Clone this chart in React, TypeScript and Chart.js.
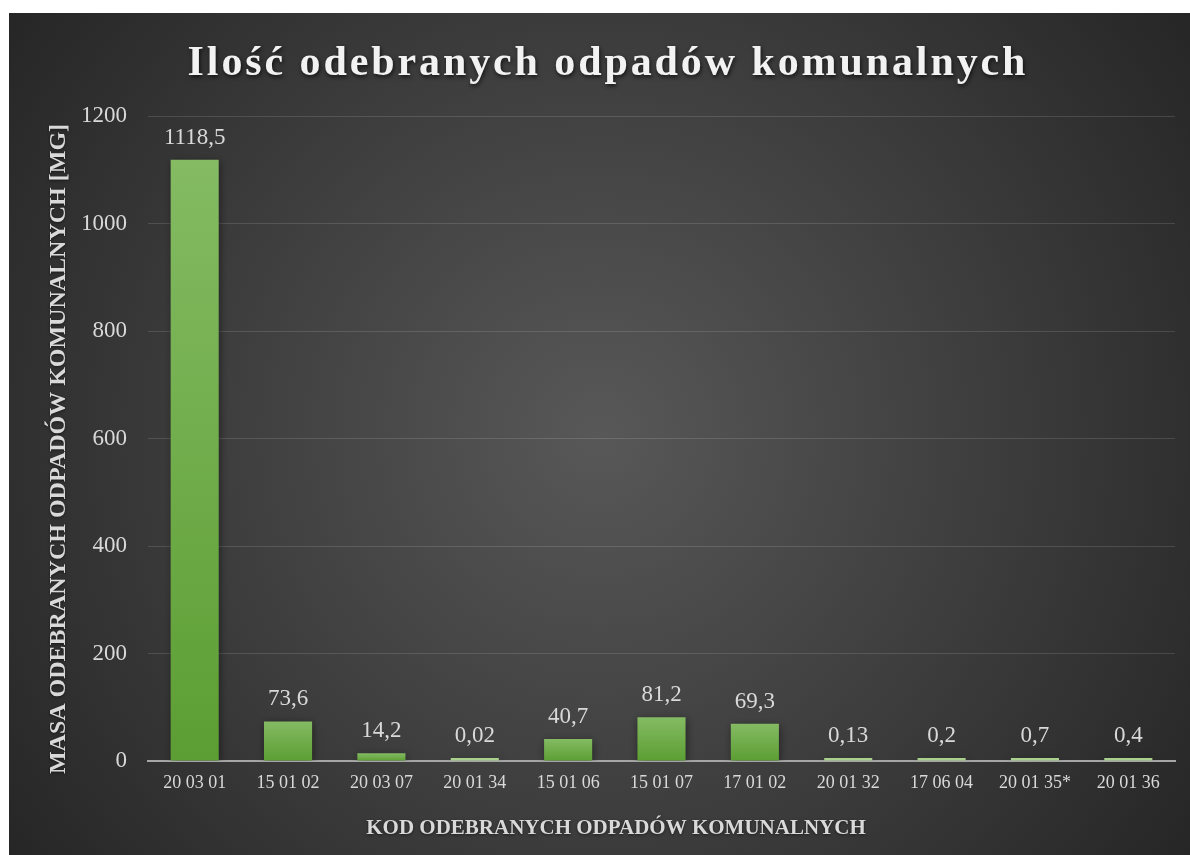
import React, { useEffect, useRef } from "react";
import { Chart, registerables } from "chart.js";

Chart.register(...registerables);

const TITLE = "Ilość odebranych odpadów komunalnych";
const X_TITLE = "KOD ODEBRANYCH ODPADÓW KOMUNALNYCH";
const Y_TITLE = "MASA ODEBRANYCH ODPADÓW KOMUNALNYCH [MG]";

const categories = [
  "20 03 01",
  "15 01 02",
  "20 03 07",
  "20 01 34",
  "15 01 06",
  "15 01 07",
  "17 01 02",
  "20 01 32",
  "17 06 04",
  "20 01 35*",
  "20 01 36",
];
const values = [1118.5, 73.6, 14.2, 0.02, 40.7, 81.2, 69.3, 0.13, 0.2, 0.7, 0.4];
const valueLabels = ["1118,5", "73,6", "14,2", "0,02", "40,7", "81,2", "69,3", "0,13", "0,2", "0,7", "0,4"];

const yMin = 0;
const yMax = 1200;
const yStep = 200;

const FONT = '"Liberation Serif", "Times New Roman", serif';
const TEXT = "#d9d9d9";

const W = 1181;
const H = 842;

const decorPlugin = {
  id: "decor",
  beforeDraw(chart: any) {
    const ctx = chart.ctx;
    const w = chart.width;
    const h = chart.height;
    ctx.save();
    const g = ctx.createRadialGradient(w * 0.5, h * 0.5, 0, w * 0.5, h * 0.5, Math.hypot(w, h) * 0.5);
    g.addColorStop(0, "#585858");
    g.addColorStop(1, "#262626");
    ctx.fillStyle = g;
    ctx.fillRect(0, 0, w, h);
    ctx.restore();
  },
  beforeDatasetsDraw(chart: any) {
    const ctx = chart.ctx;
    ctx.save();
    ctx.shadowColor = "rgba(0,0,0,0.45)";
    ctx.shadowBlur = 8;
    ctx.shadowOffsetX = 1;
    ctx.shadowOffsetY = 2;
  },
  afterDatasetsDraw(chart: any) {
    const ctx = chart.ctx;
    ctx.restore();
    const meta = chart.getDatasetMeta(0);
    ctx.save();
    ctx.fillStyle = TEXT;
    ctx.font = `23px ${FONT}`;
    ctx.textAlign = "center";
    ctx.textBaseline = "alphabetic";
    meta.data.forEach((bar: any, i: number) => {
      ctx.fillText(valueLabels[i], bar.x, bar.y - 16);
    });
    ctx.restore();
  },
  afterDraw(chart: any) {
    const ctx = chart.ctx;
    // Title
    ctx.save();
    ctx.font = `bold 42px ${FONT}`;
    (ctx as any).letterSpacing = "2.9px";
    ctx.textAlign = "center";
    ctx.textBaseline = "alphabetic";
    ctx.shadowColor = "rgba(0,0,0,0.7)";
    ctx.shadowBlur = 4;
    ctx.shadowOffsetX = 1;
    ctx.shadowOffsetY = 2;
    ctx.fillStyle = "#f2f2f2";
    ctx.fillText(TITLE, 599, 62);
    ctx.restore();

    // Axis titles
    ctx.save();
    ctx.fillStyle = TEXT;
    ctx.textAlign = "center";
    ctx.textBaseline = "middle";
    ctx.shadowColor = "rgba(0,0,0,0.5)";
    ctx.shadowBlur = 3;
    ctx.shadowOffsetY = 1;
    ctx.font = `bold 21px ${FONT}`;
    ctx.fillText(X_TITLE, 607, 816);
    ctx.font = `bold 24px ${FONT}`;
    ctx.translate(50, 436);
    ctx.rotate(-Math.PI / 2);
    ctx.fillText(Y_TITLE, 0, 0);
    ctx.restore();
  },
};

function barColor(c: any) {
  const chart = c.chart;
  const y = chart.scales?.y;
  const area = chart.chartArea;
  if (!y || !area) return "#70ad47";
  const v = values[c.dataIndex] ?? 0;
  const top = y.getPixelForValue(v);
  const base = y.getPixelForValue(0);
  if (base - top < 3) return "#a9d18e";
  const g = chart.ctx.createLinearGradient(0, top, 0, base);
  g.addColorStop(0, "#84bb63");
  g.addColorStop(1, "#5c9e33");
  return g;
}

export default function App() {
  const ref = useRef<HTMLCanvasElement | null>(null);
  useEffect(() => {
    if (!ref.current) return;
    const chart = new Chart(ref.current, {
      type: "bar",
      data: {
        labels: categories,
        datasets: [
          {
            data: values,
            backgroundColor: barColor,
            borderWidth: 0,
            barPercentage: 0.515,
            categoryPercentage: 1,
            minBarLength: 3,
          },
        ],
      },
      options: {
        responsive: false,
        animation: false,
        layout: { padding: { top: 103, right: 15, left: 0, bottom: 0 } },
        plugins: {
          legend: { display: false },
          title: { display: false },
          tooltip: { enabled: false },
        },
        scales: {
          x: {
            grid: { display: false, drawTicks: false },
            border: { display: true, color: "#a6a6a6", width: 2 },
            ticks: {
              color: TEXT,
              font: { family: FONT, size: 18 },
              padding: 11,
              maxRotation: 0,
              autoSkip: false,
            },
            afterFit(scale: any) {
              scale.height = 94;
            },
          },
          y: {
            min: yMin,
            max: yMax,
            grid: {
              color: (c: any) => (c.tick && c.tick.value === 0 ? "rgba(0,0,0,0)" : "rgba(255,255,255,0.13)"),
              lineWidth: 1,
              drawTicks: false,
            },
            border: { display: false },
            ticks: {
              stepSize: yStep,
              color: TEXT,
              font: { family: FONT, size: 23 },
              padding: 21,
              callback: (v: any) => String(v),
            },
            afterFit(scale: any) {
              scale.width = 139;
            },
          },
        },
      },
      plugins: [decorPlugin],
    });
    return () => chart.destroy();
  }, []);
  return (
    <div style={{ position: "absolute", left: 9, top: 13, width: W, height: H }}>
      <canvas ref={ref} width={W} height={H} style={{ width: W, height: H, display: "block" }} />
    </div>
  );
}
